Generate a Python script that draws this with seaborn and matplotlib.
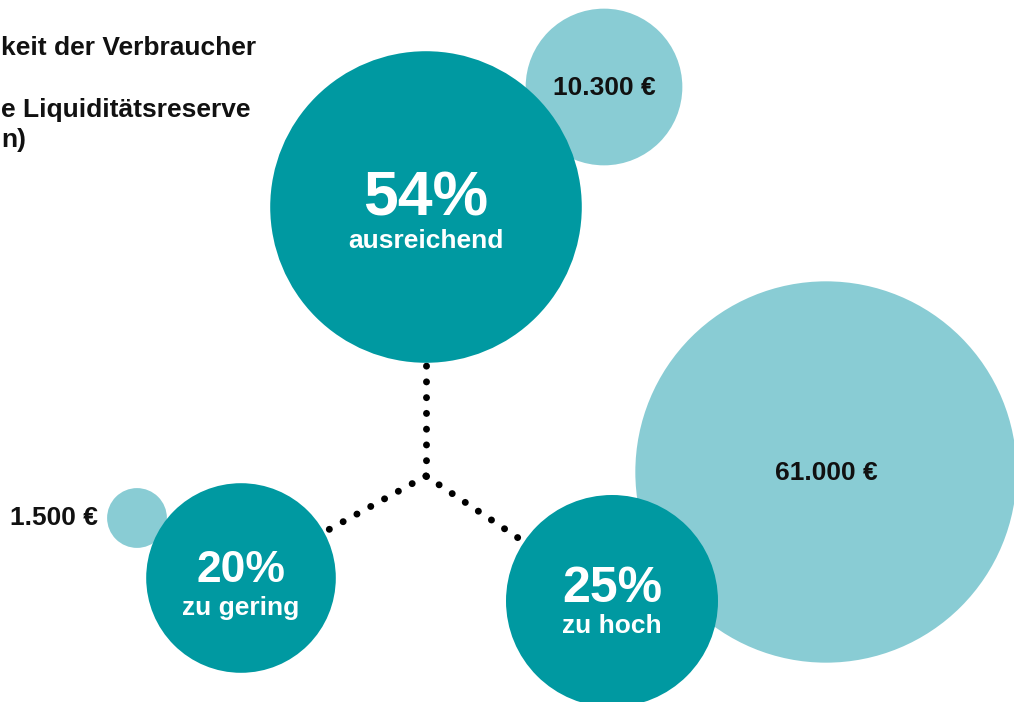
import matplotlib
matplotlib.use("Agg")
import matplotlib.pyplot as plt
import pandas as pd
import seaborn as sns

# data
groups = ["ausreichend", "zu gering", "zu hoch"]
shares = [54, 20, 25]                      # percent of consumers
reserve = [10300, 1500, 61000]             # average liquidity reserve in EUR
reserve_labels = ["10.300 €", "1.500 €", "61.000 €"]
title_lines = ["keit der Verbraucher", "", "e Liquiditätsreserve", "n)"]

# layout (pixel coordinates of the 1014x702 canvas)
share_x = [426, 241, 612]
share_y = [207, 578, 601]
reserve_x = [604, 137, 826]
reserve_y = [87, 518, 472]
junction = (426, 476)
pct_size = [45, 32, 36]
pct_base = [8, 4, 1]        # baseline offset of the % text from centre
lab_base = [41, 37, 32]     # baseline offset of the group label
k_share = 21.2              # px radius per sqrt(percent)
k_reserve = 0.772           # px radius per sqrt(EUR)

dark = "#0099A1"
light = "#89CCD4"

sns.set_style("white")
plt.rcParams["font.family"] = ["Liberation Sans", "DejaVu Sans"]

fig = plt.figure(figsize=(10.14, 7.02), dpi=100)
ax = fig.add_axes([0, 0, 1, 1])

px2pt = 72 / 100
df_share = pd.DataFrame({"x": share_x, "y": share_y, "v": shares, "g": groups})
df_res = pd.DataFrame({"x": reserve_x, "y": reserve_y, "v": reserve})

# dotted connectors
for cx, cy in zip(share_x, share_y):
    ax.plot([junction[0], cx], [junction[1], cy], color="black", lw=5,
            linestyle=(0, (0.01, 2.26)), dash_capstyle="round", zorder=1)

# area of each bubble proportional to its value
smax_res = (2 * k_reserve * px2pt) ** 2 * max(reserve)
sns.scatterplot(data=df_res, x="x", y="y", size="v", sizes=(0, smax_res),
                size_norm=(0, max(reserve)), color=light, linewidth=0,
                legend=False, ax=ax, zorder=2)
smax_sh = (2 * k_share * px2pt) ** 2 * max(shares)
sns.scatterplot(data=df_share, x="x", y="y", size="v", sizes=(0, smax_sh),
                size_norm=(0, max(shares)), color=dark, linewidth=0,
                legend=False, ax=ax, zorder=3)

for i in range(len(groups)):
    ax.text(share_x[i], share_y[i] + pct_base[i], f"{shares[i]}%", color="white",
            fontsize=pct_size[i], fontweight="bold", ha="center", va="baseline", zorder=4)
    ax.text(share_x[i], share_y[i] + lab_base[i], groups[i], color="white",
            fontsize=19, fontweight="bold", ha="center", va="baseline", zorder=4)

for i, lab in enumerate(reserve_labels):
    if reserve[i] < 5000:
        ax.text(reserve_x[i] - 39, reserve_y[i], lab, fontsize=19, fontweight="bold",
                ha="right", va="center", color="#111111", zorder=4)
    else:
        ax.text(reserve_x[i], reserve_y[i] + 1, lab, fontsize=19, fontweight="bold",
                ha="center", va="center", color="#111111", zorder=4)

ax.text(1, 55, "\n".join(title_lines[:1]), fontsize=19, fontweight="bold",
        ha="left", va="baseline", color="#111111")
ax.text(1, 117, title_lines[2], fontsize=19, fontweight="bold",
        ha="left", va="baseline", color="#111111")
ax.text(1, 147, title_lines[3], fontsize=19, fontweight="bold",
        ha="left", va="baseline", color="#111111")

ax.set_xlim(0, 1014)
ax.set_ylim(702, 0)
ax.axis("off")

plt.savefig("out.png", dpi=100)
